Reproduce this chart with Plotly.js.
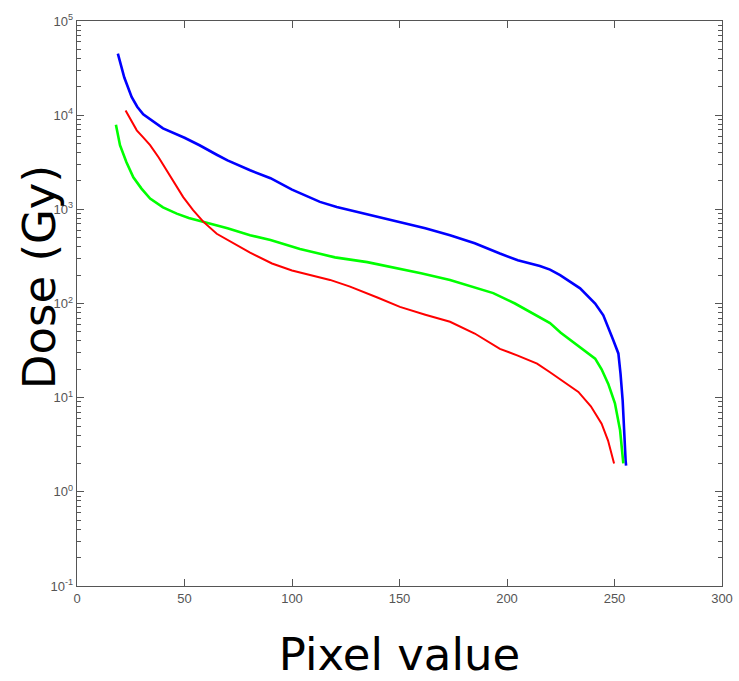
<!DOCTYPE html>
<html>
<head>
<meta charset="utf-8">
<script src="https://cdn.plot.ly/plotly-3.0.1.min.js"></script>
<style>html,body{margin:0;padding:0;background:#fff;}#chart{width:739px;height:681px;}</style>
</head>
<body>
<div id="chart"></div>
<script>
// Blue curve
const blueX = [19, 22, 25.4, 28, 30.8, 35, 40, 50, 57, 65, 70, 80.5, 90, 100, 106, 113, 120.8, 135, 150, 162, 173.5, 185, 196.7, 205, 215.3, 220, 224.7, 234, 241, 244.8, 249.4, 251.8, 252.8, 253.8, 255.2, 255.4];
const blueY = [45100, 25100, 15600, 12300, 10200, 8700, 7240, 5750, 4790, 3800, 3310, 2600, 2140, 1620, 1406, 1200, 1060, 881, 735, 631, 531, 437, 339, 288, 250, 229, 200, 145, 100, 75, 41, 29.5, 18, 9.3, 2.1, 1.9];
// Green curve
const greenX = [18.1, 20, 23, 26.2, 30, 34, 40, 46.4, 52, 58.7, 70, 80.5, 90, 103.7, 120, 135, 150.2, 160, 173.5, 185, 193.6, 203.7, 215.3, 220, 225, 241, 244, 247.1, 250.2, 252.6, 254.1];
const greenY = [7900, 4800, 3160, 2190, 1660, 1300, 1050, 900, 810, 740, 630, 530, 473, 380, 309, 275, 235, 209, 178, 148, 129, 100, 72, 62, 49, 26, 20, 14, 8.7, 4.5, 2.0];
// Red curve
const redX = [22.6, 25, 27.8, 31, 34, 38, 41.7, 45.5, 49.4, 54, 58.7, 65, 75, 80.5, 90.7, 100, 117.7, 127, 140, 150.2, 162, 173.5, 185, 196.7, 205, 214, 220, 233.2, 239, 244, 247, 249.8];
const redY = [11200, 8900, 6900, 5750, 4800, 3550, 2600, 1860, 1350, 980, 740, 550, 407, 347, 266, 224, 178, 151, 115, 92, 76, 64, 48, 33, 28, 23, 18.6, 11.5, 8.1, 5.3, 3.5, 2.0];

const xTicks = [0, 50, 100, 150, 200, 250, 300];
const yTicks = [0.1, 1, 10, 100, 1000, 10000, 100000];
const yTickText = ['10<sup>-1</sup>', '10<sup>0</sup>', '10<sup>1</sup>', '10<sup>2</sup>', '10<sup>3</sup>', '10<sup>4</sup>', '10<sup>5</sup>'];
// minor log ticks 2..9 within each decade
const yMinor = [];
yTicks.slice(0, -1).forEach(d => { for (let m = 2; m <= 9; m++) yMinor.push(d * m); });

const traces = [
  {x: blueX, y: blueY, type: 'scatter', mode: 'lines', line: {color: '#0000ff', width: 2.6}, hoverinfo: 'skip'},
  {x: greenX, y: greenY, type: 'scatter', mode: 'lines', line: {color: '#00ff00', width: 2.6}, hoverinfo: 'skip'},
  {x: redX, y: redY, type: 'scatter', mode: 'lines', line: {color: '#ff0000', width: 2}, hoverinfo: 'skip'}
];

const tickFont = {family: 'Liberation Sans Narrow, Liberation Sans, Arial', size: 13, color: '#555'};

const layout = {
  width: 739, height: 681,
  margin: {l: 77, r: 17, t: 21, b: 95},
  paper_bgcolor: '#fff', plot_bgcolor: '#fff',
  showlegend: false,
  xaxis: {
    range: [0, 300], tickvals: xTicks, ticktext: xTicks.map(String),
    ticks: 'inside', ticklen: 7, tickcolor: '#555', tickwidth: 1,
    showline: true, linecolor: '#555', linewidth: 1.3, mirror: 'ticks',
    showgrid: false, zeroline: false, tickfont: tickFont,
    title: {text: 'Pixel value', font: {family: 'DejaVu Sans', size: 45, color: '#000'}, standoff: 35},
    automargin: false
  },
  yaxis: {
    type: 'log', range: [-1, 5], tickvals: yTicks, ticktext: yTickText,
    ticks: 'inside', ticklen: 7, tickcolor: '#555', tickwidth: 1,
    minor: {tickmode: 'array', tickvals: yMinor, ticks: 'inside', ticklen: 4, tickcolor: '#555', tickwidth: 1, showgrid: false},
    showline: true, linecolor: '#555', linewidth: 1.3, mirror: 'ticks',
    showgrid: false, zeroline: false, tickfont: tickFont,
    automargin: false
  },
  annotations: [{
    text: 'Dose (Gy)', xref: 'paper', yref: 'paper',
    x: -0.057, y: 0.547, xanchor: 'center', yanchor: 'middle',
    textangle: -90, showarrow: false,
    font: {family: 'DejaVu Sans', size: 45, color: '#000'}
  }]
};

Plotly.newPlot('chart', traces, layout, {displayModeBar: false, staticPlot: true});
</script>
</body>
</html>
